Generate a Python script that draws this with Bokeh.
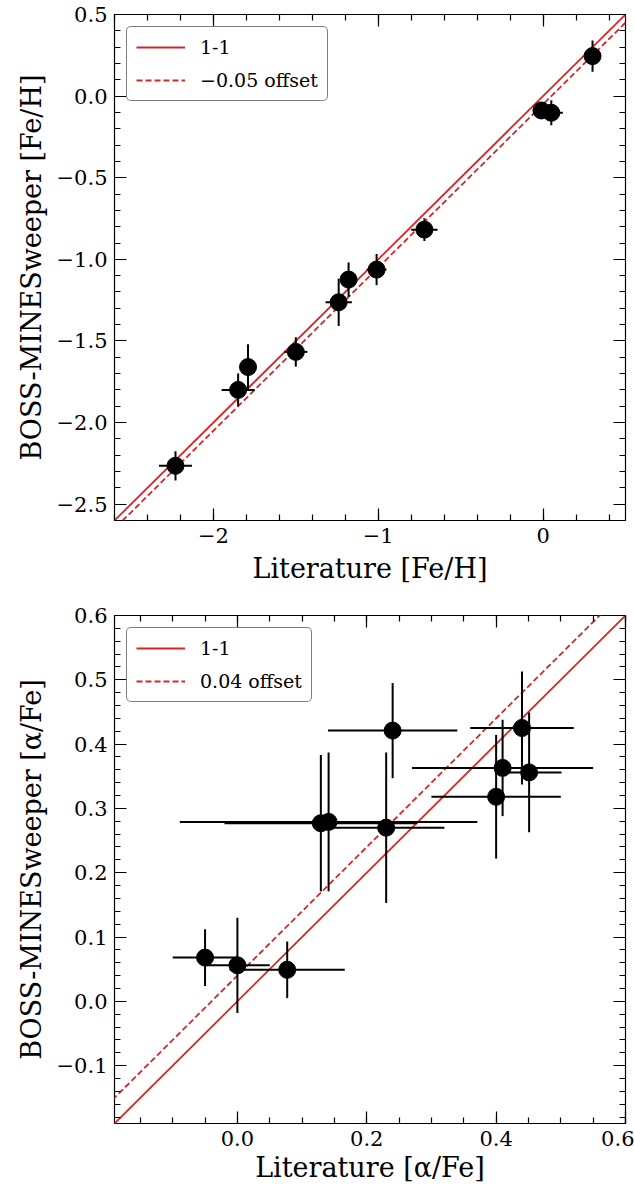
import numpy as np
from bokeh.plotting import figure
from bokeh.models import (ColumnDataSource, LinearAxis, FixedTicker, Legend,
                          LegendItem, Range1d, CustomLabelingPolicy)
from bokeh.layouts import column
from bokeh.embed import file_html
from bokeh.resources import INLINE

# ---------------- data: top panel, [Fe/H] ----------------
feh_lit = [-2.23, -1.85, -1.79, -1.50, -1.24, -1.18, -1.01, -0.72, -0.01, 0.05, 0.30]
feh_lit_err = [0.10, 0.10, 0.03, 0.07, 0.08, 0.03, 0.06, 0.08, 0.03, 0.07, 0.03]
feh_bm = [-2.265, -1.80, -1.66, -1.567, -1.263, -1.124, -1.063, -0.818, -0.088, -0.102, 0.245]
feh_bm_err = [0.09, 0.10, 0.14, 0.09, 0.145, 0.105, 0.095, 0.07, 0.03, 0.077, 0.095]
feh_offset = -0.05
feh_range = [-2.6, 0.5]
feh_x_ticks = [-2, -1, 0]
feh_x_labels = ["\u22122", "\u22121", "0"]
feh_y_ticks = [-2.5, -2.0, -1.5, -1.0, -0.5, 0.0, 0.5]
feh_y_labels = ["\u22122.5", "\u22122.0", "\u22121.5", "\u22121.0", "\u22120.5", "0.0", "0.5"]

# ---------------- data: bottom panel, [alpha/Fe] ----------------
afe_lit = [-0.05, 0.0, 0.077, 0.129, 0.141, 0.23, 0.24, 0.44, 0.41, 0.451, 0.40]
afe_lit_err = [0.05, 0.05, 0.089, 0.149, 0.23, 0.09, 0.10, 0.08, 0.14, 0.05, 0.10]
afe_bm = [0.068, 0.056, 0.049, 0.277, 0.279, 0.270, 0.421, 0.425, 0.363, 0.356, 0.318]
afe_bm_err = [0.044, 0.074, 0.044, 0.106, 0.108, 0.117, 0.074, 0.088, 0.075, 0.093, 0.096]
afe_offset = 0.04
afe_range = [-0.19, 0.6]
afe_x_ticks = [0.0, 0.2, 0.4, 0.6]
afe_x_labels = ["0.0", "0.2", "0.4", "0.6"]
afe_y_ticks = [-0.1, 0.0, 0.1, 0.2, 0.3, 0.4, 0.5, 0.6]
afe_y_labels = ["\u22120.1", "0.0", "0.1", "0.2", "0.3", "0.4", "0.5", "0.6"]

FONT = "DejaVu Serif"
RED = "#d62728"

NO_LABELS = CustomLabelingPolicy(code="""
for (const i of indices) { indices.unset(i) }
return indices
""")


def make_panel(xv, xe, yv, ye, offset, rng, xt, xl, yt, yl, xminor, yminor,
               xlabel, ylabel, offset_label, borders, frame, xlab_standoff):
    bl, br, bt, bb = borders
    fw, fh = frame
    p = figure(frame_width=fw, frame_height=fh,
               x_range=Range1d(*rng), y_range=Range1d(*rng),
               min_border_left=bl, min_border_right=br,
               min_border_top=bt, min_border_bottom=bb,
               output_backend="svg", toolbar_location=None,
               x_axis_location=None, y_axis_location=None)
    p.grid.visible = False
    p.outline_line_color = "black"
    p.outline_line_width = 1.2
    p.background_fill_color = "white"
    p.border_fill_color = "white"

    def axis(ticks, labels, minor, show, label="", lab_standoff=7, tick_standoff=7):
        ax = LinearAxis(ticker=FixedTicker(ticks=ticks, minor_ticks=list(minor)))
        ax.axis_line_color = None
        ax.major_tick_in = 12
        ax.major_tick_out = 0
        ax.minor_tick_in = 6
        ax.minor_tick_out = 0
        ax.major_tick_line_color = "black"
        ax.minor_tick_line_color = "black"
        ax.major_tick_line_width = 1.2
        ax.minor_tick_line_width = 1.2
        if show:
            ax.major_label_overrides = {t: l for t, l in zip(ticks, labels)}
            ax.major_label_text_font = FONT
            ax.major_label_text_font_size = "21px"
            ax.major_label_text_color = "black"
            ax.major_label_standoff = tick_standoff
            ax.axis_label = label
            ax.axis_label_text_font = FONT
            ax.axis_label_text_font_size = "27px"
            ax.axis_label_text_font_style = "normal"
            ax.axis_label_text_color = "black"
            ax.axis_label_standoff = lab_standoff
        else:
            ax.major_label_policy = NO_LABELS
            ax.major_label_text_font_size = "1px"
            ax.major_label_text_color = None
            ax.major_label_standoff = 0
        return ax

    p.add_layout(axis(xt, xl, xminor, True, xlabel, xlab_standoff, 7), "below")
    p.add_layout(axis(yt, yl, yminor, True, ylabel, 7, 7), "left")
    p.add_layout(axis(xt, xl, xminor, False), "above")
    p.add_layout(axis(yt, yl, yminor, False), "right")

    ref = np.array([rng[0] - 1.0, rng[1] + 1.0])
    r1 = p.line(ref, ref, line_color=RED, line_width=1.8)
    r2 = p.line(ref, ref + offset, line_color=RED, line_width=1.8, line_dash="6 3")

    x = np.array(xv); y = np.array(yv)
    dx = np.array(xe); dy = np.array(ye)
    src = ColumnDataSource(dict(x=x, y=y, xl=x - dx, xr=x + dx, yl=y - dy, yh=y + dy))
    p.segment(x0="xl", y0="y", x1="xr", y1="y", source=src, line_color="black", line_width=2)
    p.segment(x0="x", y0="yl", x1="x", y1="yh", source=src, line_color="black", line_width=2)
    p.scatter(x="x", y="y", source=src, size=17, color="black")

    leg = Legend(items=[LegendItem(label="1-1", renderers=[r1]),
                        LegendItem(label=offset_label, renderers=[r2])],
                 location="top_left", margin=12, padding=9, spacing=11,
                 glyph_width=49, glyph_height=20, label_height=20,
                 label_standoff=15, label_text_font=FONT,
                 label_text_font_size="19px", label_text_color="black",
                 border_line_color="black", border_line_width=1.2,
                 background_fill_color="white", background_fill_alpha=1.0)
    if "border_radius" in Legend.properties():
        leg.border_radius = 5
    p.add_layout(leg)
    return p


p1 = make_panel(feh_lit, feh_lit_err, feh_bm, feh_bm_err, feh_offset, feh_range,
                feh_x_ticks, feh_x_labels, feh_y_ticks, feh_y_labels,
                np.round(np.arange(-2.6, 0.5, 0.2), 2), np.round(np.arange(-2.6, 0.55, 0.1), 2),
                "Literature [Fe/H]", "BOSS-MINESweeper [Fe/H]",
                "\u22120.05 offset", (114, 9, 14, 80), (511, 506), 7)
p2 = make_panel(afe_lit, afe_lit_err, afe_bm, afe_bm_err, afe_offset, afe_range,
                afe_x_ticks, afe_x_labels, afe_y_ticks, afe_y_labels,
                np.round(np.arange(-0.15, 0.61, 0.05), 2), np.round(np.arange(-0.18, 0.61, 0.02), 2),
                "Literature [\u03b1/Fe]", "BOSS-MINESweeper [\u03b1/Fe]",
                "0.04 offset", (105, 18, 15, 63), (511, 508), 3)

layout = column(p1, p2, spacing=0)
open("out.html", "w").write(file_html(layout, INLINE))
